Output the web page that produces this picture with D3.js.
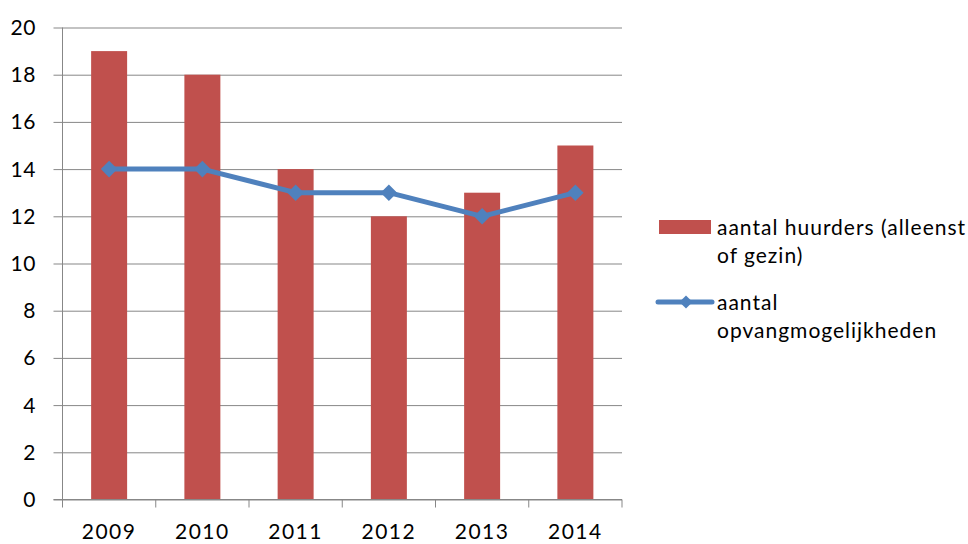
<!DOCTYPE html>
<html>
<head>
<meta charset="utf-8">
<script src="https://cdn.jsdelivr.net/npm/d3@7"></script>
<style>
  html, body { margin: 0; padding: 0; background: #fff; }
  svg { display: block; font-family: Lato, "Liberation Sans", sans-serif; }
</style>
</head>
<body>
<svg id="chart" width="968" height="544"></svg>
<script>
// Jaren, waarden en aslabels
const years = ["2009", "2010", "2011", "2012", "2013", "2014"];
const huurders = [19, 18, 14, 12, 13, 15];
const opvang = [14, 14, 13, 13, 12, 13];
const yTicks = [0, 2, 4, 6, 8, 10, 12, 14, 16, 18, 20];
const legendBar = ["aantal huurders (alleenst", "of gezin)"];
const legendLine = ["aantal", "opvangmogelijkheden"];

const barColor = "#C0504D";
const lineColor = "#4F81BD";
const gridColor = "#878787";

const svg = d3.select("#chart");
const plotLeft = 62.5, plotRight = 622, plotTop = 27.5, plotBottom = 499.5;

const x = d3.scaleBand().domain(years).range([plotLeft, plotRight])
  .paddingInner(0.614).paddingOuter(0.307);
const y = d3.scaleLinear().domain([0, 20]).range([plotBottom, plotTop]);

// horizontale rasterlijnen met uitstekende streepjes
const yAxis = d3.axisLeft(y).tickValues(yTicks)
  .tickSize(-(plotRight - plotLeft)).tickSizeOuter(0).tickPadding(0).tickFormat("");
const gy = svg.append("g").attr("transform", `translate(${plotLeft},0)`).call(yAxis);
gy.select(".domain").remove();
gy.selectAll(".tick line").attr("stroke", gridColor).attr("x1", -9);

// y-labels
svg.append("g").selectAll("text").data(yTicks).join("text")
  .attr("x", 36).attr("y", d => y(d) + 7.5)
  .attr("text-anchor", "end").attr("font-size", 21).attr("letter-spacing", 0.6)
  .attr("fill", "#000")
  .text(d => d);

// staven
svg.append("g").selectAll("rect").data(years).join("rect")
  .attr("x", d => x(d)).attr("width", x.bandwidth())
  .attr("y", (d, i) => y(huurders[i]))
  .attr("height", (d, i) => y(0) - y(huurders[i]))
  .attr("fill", barColor);

// verticale as
svg.append("line").attr("x1", plotLeft).attr("x2", plotLeft).attr("y1", plotTop).attr("y2", plotBottom)
  .attr("stroke", gridColor);

// horizontale as met streepjes tussen de categorieën
const step = x.step();
const boundaries = d3.range(years.length + 1).map(i => plotLeft + i * step);
svg.append("line").attr("x1", plotLeft - 9).attr("x2", plotRight).attr("y1", plotBottom).attr("y2", plotBottom)
  .attr("stroke", gridColor);
svg.append("g").selectAll("line").data(boundaries).join("line")
  .attr("x1", d => d).attr("x2", d => d).attr("y1", plotBottom).attr("y2", plotBottom + 8)
  .attr("stroke", gridColor);

// x-labels
svg.append("g").selectAll("text").data(years).join("text")
  .attr("x", d => x(d) + x.bandwidth() / 2).attr("y", 539)
  .attr("text-anchor", "middle").attr("font-size", 21).attr("letter-spacing", 1.5)
  .attr("fill", "#000")
  .text(d => d);

// lijn met ruitmarkeringen
const cx = d => x(d) + x.bandwidth() / 2;
const line = d3.line().x((d, i) => cx(years[i])).y(d => y(d));
svg.append("path").datum(opvang).attr("d", line)
  .attr("fill", "none").attr("stroke", lineColor).attr("stroke-width", 5)
  .attr("stroke-linejoin", "round");
const diamond = d3.symbol().type(d3.symbolDiamond2).size(175);
svg.append("g").selectAll("path").data(opvang).join("path")
  .attr("transform", (d, i) => `translate(${cx(years[i])},${y(d)})`)
  .attr("d", diamond).attr("fill", lineColor);

// legenda
svg.append("rect").attr("x", 659).attr("y", 220).attr("width", 52).attr("height", 14)
  .attr("fill", barColor);
svg.append("g").selectAll("text").data(legendBar).join("text")
  .attr("x", 717).attr("y", (d, i) => 235 + i * 28)
  .attr("font-size", 21).attr("letter-spacing", 1).attr("fill", "#000").text(d => d);

svg.append("line").attr("x1", 658).attr("x2", 712).attr("y1", 302).attr("y2", 302)
  .attr("stroke", lineColor).attr("stroke-width", 5).attr("stroke-linecap", "round");
svg.append("path").attr("transform", "translate(686,302)")
  .attr("d", d3.symbol().type(d3.symbolDiamond2).size(110)).attr("fill", lineColor);
svg.append("g").selectAll("text").data(legendLine).join("text")
  .attr("x", 717).attr("y", (d, i) => 310 + i * 28)
  .attr("font-size", 21).attr("letter-spacing", 1).attr("fill", "#000").text(d => d);
</script>
</body>
</html>
